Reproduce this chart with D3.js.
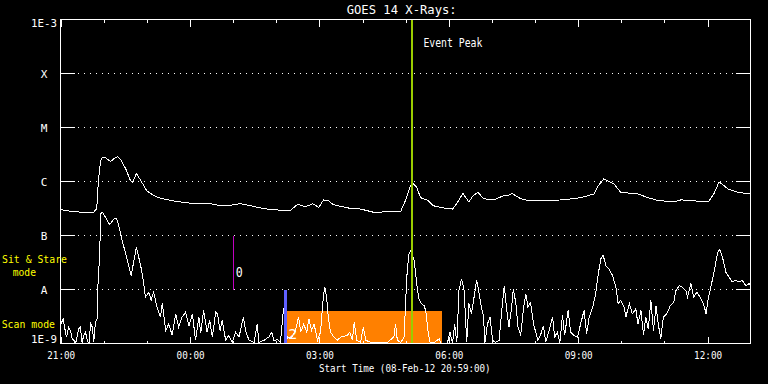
<!DOCTYPE html>
<html><head><meta charset="utf-8">
<script src="https://cdn.jsdelivr.net/npm/d3@7/dist/d3.min.js"></script>
<style>html,body{margin:0;padding:0;background:#000;}svg{display:block}</style>
</head><body>
<svg id="c" width="768" height="384"></svg>
<script>
// ---- data ----
const startTime = "2012-02-08T20:59:00Z";
const spanHours = 16;
const levelFlux = [1e-3, 1e-4, 1e-5, 1e-6, 1e-7, 1e-8, 1e-9];
const levelLabels = ["1E-3", "X", "M", "C", "B", "A", "1E-9"];

// 1-8 A channel: hours after start, log10 flux (W/m^2)
const longHours = [0,0.30,0.58,0.77,0.84,0.88,0.93,0.97,1.04,1.16,
1.25,1.32,1.39,1.51,1.62,1.67,1.76,1.86,2.00,2.16,
2.32,2.55,2.71,2.90,3.09,3.25,3.41,3.60,3.71,3.87,
4.01,4.18,4.41,4.64,4.87,5.10,5.34,5.50,5.64,5.75,
5.85,5.99,6.10,6.22,6.33,6.50,6.73,6.96,7.26,7.66,
7.89,8.00,8.12,8.17,8.26,8.35,8.52,8.65,8.89,9.09,
9.19,9.33,9.47,9.56,9.68,9.81,10.05,10.28,10.39,10.46,
10.51,10.67,10.84,11.30,11.67,12.06,12.37,12.46,12.60,12.71,
12.83,12.99,13.39,13.62,13.85,14.22,14.39,14.69,15.03,15.15,
15.27,15.36,15.48,15.71,16.0];
const longLog = [-6.52,-6.56,-6.57,-6.57,-6.50,-5.98,-5.61,-5.56,-5.56,-5.63,
-5.57,-5.54,-5.59,-5.76,-5.98,-6.02,-5.85,-5.98,-6.17,-6.26,
-6.31,-6.35,-6.37,-6.39,-6.41,-6.41,-6.40,-6.43,-6.45,-6.45,
-6.43,-6.41,-6.45,-6.49,-6.52,-6.53,-6.53,-6.42,-6.46,-6.45,
-6.41,-6.48,-6.34,-6.36,-6.43,-6.46,-6.50,-6.51,-6.57,-6.56,
-6.55,-6.35,-6.07,-6.03,-6.11,-6.30,-6.35,-6.45,-6.49,-6.51,
-6.41,-6.22,-6.38,-6.27,-6.20,-6.32,-6.34,-6.26,-6.26,-6.22,
-6.24,-6.32,-6.35,-6.35,-6.34,-6.30,-6.23,-6.09,-5.95,-6.00,
-6.04,-6.20,-6.23,-6.30,-6.35,-6.38,-6.34,-6.36,-6.37,-6.23,
-6.01,-6.06,-6.14,-6.20,-6.23];

// 0.5-4 A channel
const shortHours = [0.00,0.06,0.12,0.14,0.19,0.23,0.27,0.31,0.35,0.42,
0.46,0.50,0.54,0.58,0.62,0.66,0.70,0.74,0.77,0.81,
0.85,0.87,0.91,0.93,0.97,1.04,1.14,1.24,1.30,1.35,
1.43,1.55,1.64,1.69,1.76,1.86,1.93,1.97,2.05,2.10,
2.16,2.24,2.32,2.36,2.44,2.51,2.59,2.67,2.74,2.82,
2.90,2.98,3.06,3.13,3.21,3.25,3.32,3.40,3.46,3.52,
3.60,3.64,3.70,3.75,3.83,3.90,3.98,4.06,4.14,4.24,
4.29,4.37,4.49,4.56,4.60,4.72,4.83,4.90,4.95,5.04,
5.10,5.17,5.20,5.23,5.27,5.34,5.45,5.52,5.57,5.64,
5.71,5.76,5.82,5.88,5.96,6.03,6.10,6.13,6.17,6.21,
6.26,6.34,6.42,6.50,6.65,6.71,6.77,6.81,6.87,6.96,
7.02,7.08,7.19,7.35,7.58,7.73,7.77,7.81,7.89,7.97,
8.00,8.04,8.08,8.12,8.20,8.26,8.31,8.37,8.43,8.47,
8.52,8.57,8.66,8.78,8.82,8.97,9.03,9.09,9.14,9.19,
9.24,9.30,9.36,9.42,9.47,9.53,9.59,9.65,9.71,9.74,
9.81,9.84,9.90,9.96,10.02,10.09,10.17,10.25,10.29,10.35,
10.40,10.46,10.50,10.56,10.61,10.67,10.74,10.79,10.84,10.90,
10.97,11.02,11.07,11.14,11.20,11.25,11.33,11.41,11.46,11.52,
11.58,11.64,11.69,11.77,11.83,11.90,11.99,12.06,12.14,12.20,
12.26,12.34,12.41,12.47,12.53,12.58,12.65,12.72,12.80,12.88,
12.93,12.99,13.07,13.11,13.19,13.26,13.34,13.39,13.46,13.52,
13.57,13.63,13.69,13.75,13.81,13.86,13.92,13.98,14.06,14.14,
14.22,14.27,14.35,14.42,14.50,14.54,14.62,14.68,14.76,14.83,
14.91,14.97,15.02,15.08,15.16,15.24,15.29,15.35,15.43,15.50,
15.58,15.66,15.73,15.81,15.89,15.97,16.00];
const shortLog = [-8.67,-8.54,-8.81,-8.88,-8.70,-8.76,-8.91,-8.94,-9.00,-8.73,
-8.70,-8.98,-8.85,-8.79,-8.94,-9.00,-8.63,-8.70,-8.98,-8.61,
-8.54,-7.89,-7.33,-6.60,-6.57,-6.66,-6.80,-6.69,-6.68,-6.81,
-7.09,-7.46,-7.74,-7.52,-7.22,-7.56,-7.89,-8.14,-8.05,-8.20,
-8.05,-8.33,-8.51,-8.26,-8.76,-8.64,-8.85,-8.45,-8.70,-8.51,
-8.42,-8.67,-8.45,-8.94,-8.51,-8.81,-8.39,-8.79,-8.57,-8.88,
-8.42,-8.45,-8.76,-8.57,-8.94,-8.85,-8.98,-8.79,-8.88,-8.51,
-8.76,-8.94,-8.98,-8.64,-8.98,-8.94,-8.88,-8.79,-8.94,-8.93,
-8.98,-8.36,-8.39,-8.98,-8.88,-8.91,-8.76,-8.51,-8.79,-8.64,
-8.79,-8.54,-8.76,-8.64,-8.94,-8.79,-8.08,-7.96,-8.14,-8.51,
-8.79,-8.88,-8.94,-8.88,-8.85,-8.79,-8.94,-8.61,-8.94,-8.98,
-8.70,-8.94,-8.98,-8.99,-8.98,-8.88,-8.64,-8.94,-8.98,-8.88,
-8.26,-7.65,-7.34,-7.29,-7.46,-7.89,-8.17,-8.26,-8.30,-8.39,
-8.76,-8.98,-8.99,-8.91,-8.99,-9.00,-8.79,-9.00,-8.64,-8.98,
-8.02,-7.80,-8.02,-8.98,-8.26,-8.45,-8.14,-7.83,-8.08,-8.24,
-8.51,-9.00,-8.64,-8.51,-8.94,-8.98,-8.94,-8.24,-7.93,-8.39,
-8.70,-8.33,-7.99,-8.26,-8.70,-8.85,-8.33,-8.08,-8.33,-8.24,
-8.64,-8.79,-8.94,-8.82,-8.67,-8.98,-8.76,-8.51,-8.88,-8.79,
-8.98,-8.48,-8.85,-8.39,-8.79,-8.85,-8.88,-8.64,-8.39,-8.82,
-8.51,-8.33,-8.08,-7.71,-7.43,-7.36,-7.56,-7.62,-7.74,-7.96,
-8.26,-8.20,-8.33,-8.51,-8.26,-8.45,-8.36,-8.64,-8.39,-8.85,
-8.51,-8.73,-8.20,-8.76,-8.30,-8.64,-8.91,-8.51,-8.45,-8.30,
-8.24,-8.02,-7.93,-7.96,-8.02,-8.14,-7.89,-8.14,-8.05,-8.14,
-8.26,-8.45,-8.17,-7.96,-7.65,-7.31,-7.26,-7.40,-7.68,-7.77,
-7.86,-7.83,-7.86,-7.83,-7.93,-7.89,-7.93];

// markers (hours after start)
const eventPeakHour = 8.16;
const scanStartHour = 5.26, scanEndHour = 8.85, scanTopFlux = 4e-9;
const sitStareHour = 5.22, sitStareFlux = [1e-9, 1e-8];
const markerHour = 4.02, markerFlux = [1e-8, 1e-7];

// ---- drawing ----
const FONT = "DejaVu Sans Mono";
const svg = d3.select("#c");
svg.append("rect").attr("width", 768).attr("height", 384).attr("fill", "#000");

const t0 = new Date(startTime);
const toDate = h => new Date(t0.getTime() + h * 3600e3);
const x = d3.scaleUtc().domain([t0, toDate(spanHours)]).range([60.5, 750.5]);
const y = d3.scaleLog().domain([1e-9, 1e-3]).range([343.5, 19.5]).clamp(true);
const L = 60.5, R = 750.5, T = 19.5, B = 343.5;

const g = svg.append("g").attr("shape-rendering", "crispEdges");

// scan mode block
g.append("rect")
  .attr("x", x(toDate(scanStartHour))).attr("y", y(scanTopFlux))
  .attr("width", x(toDate(scanEndHour)) - x(toDate(scanStartHour)))
  .attr("height", B - y(scanTopFlux)).attr("fill", "#ff8000");

// gridlines & level ticks
levelFlux.slice(1, -1).forEach(f => {
  const yy = Math.round(y(f) - 0.5) + 0.5;
  g.append("line").attr("x1", 78).attr("x2", 734).attr("y1", yy).attr("y2", yy)
    .attr("stroke", "#fff").attr("stroke-dasharray", "1,5");
  g.append("line").attr("x1", L).attr("x2", 75).attr("y1", yy).attr("y2", yy).attr("stroke", "#fff");
  g.append("line").attr("x1", 736).attr("x2", R).attr("y1", yy).attr("y2", yy).attr("stroke", "#fff");
});

// time ticks
const hourTicks = d3.utcHour.every(1).range(t0, toDate(spanHours));
hourTicks.forEach(d => {
  const major = d.getUTCHours() % 3 === 0;
  const xx = Math.round(x(d) - 0.5) + 0.5;
  const len = major ? 7 : 3;
  g.append("line").attr("x1", xx).attr("x2", xx).attr("y1", T).attr("y2", T + len).attr("stroke", "#fff");
  g.append("line").attr("x1", xx).attr("x2", xx).attr("y1", B).attr("y2", B - len).attr("stroke", "#fff");
});

// curves
const line = d3.line().x(d => x(toDate(d[0]))).y(d => y(Math.pow(10, d[1])));
g.append("path").datum(d3.zip(longHours, longLog)).attr("d", line)
  .attr("fill", "none").attr("stroke", "#fff").attr("stroke-width", 1);
g.append("path").datum(d3.zip(shortHours, shortLog)).attr("d", line)
  .attr("fill", "none").attr("stroke", "#fff").attr("stroke-width", 1);

// markers
g.append("line").attr("x1", x(toDate(markerHour))).attr("x2", x(toDate(markerHour)))
  .attr("y1", y(markerFlux[1])).attr("y2", y(markerFlux[0])).attr("stroke", "#c000c0");
g.append("rect").attr("x", x(toDate(sitStareHour)) - 1.5).attr("width", 3)
  .attr("y", y(sitStareFlux[1])).attr("height", y(sitStareFlux[0]) - y(sitStareFlux[1]))
  .attr("fill", "#6060ff");
g.append("line").attr("x1", x(toDate(eventPeakHour))).attr("x2", x(toDate(eventPeakHour)))
  .attr("y1", T).attr("y2", B).attr("stroke", "#9acd00").attr("stroke-width", 2);

// frame
g.append("rect").attr("x", L).attr("y", T).attr("width", R - L).attr("height", B - T)
  .attr("fill", "none").attr("stroke", "#fff");

// texts
function txt(s, xx, yy, opt = {}) {
  const t = svg.append("text").text(s).attr("x", xx).attr("y", yy)
    .attr("font-family", FONT).attr("font-size", opt.size || 10)
    .attr("fill", opt.fill || "#fff").attr("text-anchor", opt.anchor || "start");
  if (opt.len) t.attr("textLength", opt.len).attr("lengthAdjust", "spacingAndGlyphs");
  return t;
}
txt("GOES 14 X-Rays:", 346.7, 14, {size: 12.5, len: 110});
txt("Event Peak", x(toDate(eventPeakHour)) + 11, 46.5, {size: 11.5, len: 59});
hourTicks.filter(d => d.getUTCHours() % 3 === 0).forEach(d => {
  txt(d3.utcFormat("%H:%M")(d), x(d), 358.5, {anchor: "middle", size: 10, len: 28});
});
txt("Start Time (" + d3.utcFormat("%d-%b-%y %H:%M:%S")(t0) + ")", 404.8, 371.7, {anchor: "middle", size: 10, len: 171.7});

levelFlux.forEach((f, i) => {
  const lab = levelLabels[i];
  if (i === 0) txt(lab, 57, 26.7, {anchor: "end", size: 10.5, len: 26});
  else if (i === levelFlux.length - 1) txt(lab, 57, 343.3, {anchor: "end", size: 10.5, len: 26});
  else txt(lab, 44, y(f) + 4, {anchor: "middle", size: 11});
});

txt("Sit & Stare", 2, 263, {size: 10, fill: "#ffff00", len: 65});
txt("mode", 12.7, 275.5, {size: 10, fill: "#ffff00", len: 23.3});
txt("Scan mode", 1.7, 328.3, {size: 10.5, fill: "#ffff00", len: 53.3});

txt("0", x(toDate(markerHour)) + 2, 277.3, {size: 14, len: 7});
txt("2", x(toDate(scanStartHour)) + 1, 339, {size: 14, len: 9});
</script>
</body></html>
